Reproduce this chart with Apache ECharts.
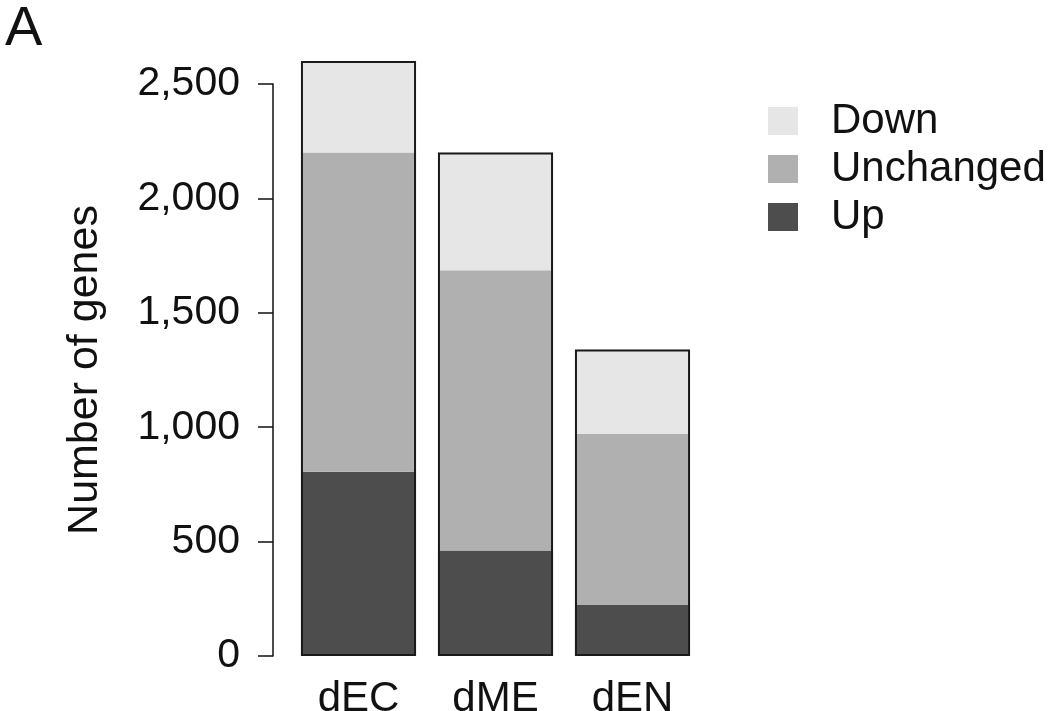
<!DOCTYPE html>
<html>
<head>
<meta charset="utf-8">
<script src="https://cdn.jsdelivr.net/npm/echarts@6/dist/echarts.min.js"></script>
<style>
  html, body { margin: 0; padding: 0; background: #fff; }
  #chart { width: 1050px; height: 711px; }
</style>
</head>
<body>
<div id="chart"></div>
<script>
// data
const categories = ['dEC', 'dME', 'dEN']
const upCounts = [805, 461, 223]
const unchangedCounts = [1396, 1225, 748]
const downCounts = [399, 515, 369]
const yTicks = [0, 500, 1000, 1500, 2000, 2500]

const totals = categories.map((_, i) => upCounts[i] + unchangedCounts[i] + downCounts[i])
const fmt = v => v.toLocaleString('en-US')

const chart = echarts.init(document.getElementById('chart'))
const font = 'Liberation Sans, Arial, sans-serif'
const barW = '84%'

const seg = (name, data, color) => ({
  name, type: 'bar', stack: 'genes', data, barWidth: barW, clip: false,
  itemStyle: { color },
  emphasis: { disabled: true }
})

chart.setOption({
  animation: false,
  title: {
    text: 'A', left: 0, top: -3,
    textStyle: { fontFamily: font, fontSize: 56, fontWeight: 'normal', color: '#111' }
  },
  legend: {
    orient: 'vertical', left: 763, top: 95,
    data: ['Down', 'Unchanged', 'Up'],
    icon: 'rect', itemWidth: 30, itemHeight: 28, itemGap: 6,
    textStyle: { fontFamily: font, fontSize: 42, lineHeight: 42, color: '#111', padding: [0, 0, 0, 28] }
  },
  grid: { left: 290, right: 349, top: 84, bottom: 55, outerBoundsMode: 'none' },
  xAxis: {
    type: 'category', data: categories,
    axisLine: { show: false }, axisTick: { show: false },
    axisLabel: { fontFamily: font, fontSize: 42, color: '#111', margin: 22 }
  },
  yAxis: {
    type: 'value', min: yTicks[0], max: yTicks[yTicks.length - 1], interval: 500,
    offset: 17,
    name: 'Number of genes', nameLocation: 'middle', nameGap: 166, nameRotate: 90,
    nameTextStyle: { fontFamily: font, fontSize: 43, color: '#111' },
    axisLine: { show: true, lineStyle: { color: '#111', width: 1.5 } },
    axisTick: { show: true, length: 15, lineStyle: { color: '#111', width: 1.5 } },
    axisLabel: { fontFamily: font, fontSize: 41, color: '#111', margin: 33, formatter: fmt },
    splitLine: { show: false }
  },
  series: [
    seg('Up', upCounts, '#4d4d4d'),
    seg('Unchanged', unchangedCounts, '#b0b0b0'),
    seg('Down', downCounts, '#e6e6e6'),
    {
      name: 'total', type: 'bar', data: totals, barWidth: barW, barGap: '-100%', clip: false,
      itemStyle: { color: 'rgba(0,0,0,0)', borderColor: '#1a1a1a', borderWidth: 2 },
      emphasis: { disabled: true }, silent: true, z: 3
    }
  ]
})
</script>
</body>
</html>
